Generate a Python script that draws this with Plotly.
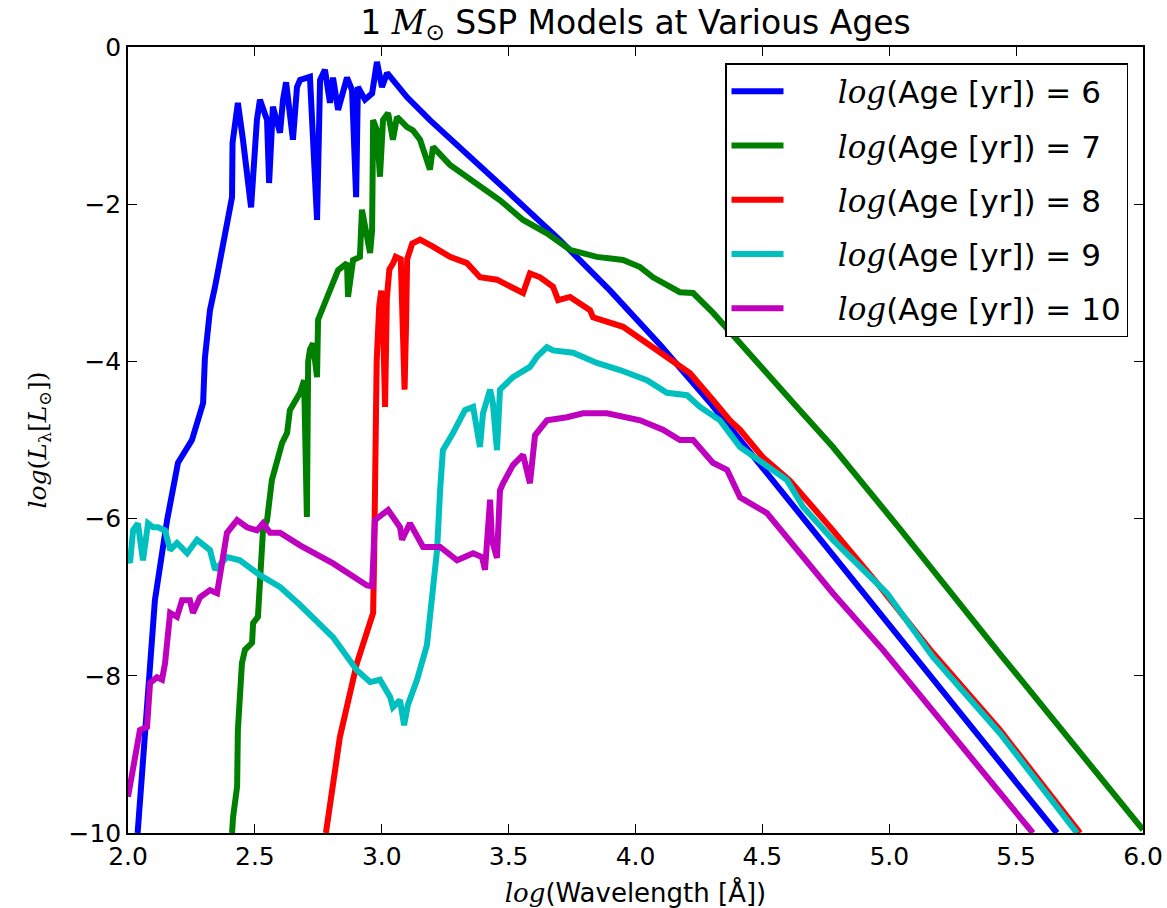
import plotly.graph_objects as go

# log(Age [yr]) values of the five SSP models
ages = [6, 7, 8, 9, 10]
colors = ["#0000ff", "#008000", "#ff0000", "#00bfbf", "#bf00bf"]

# log(Wavelength) and log(L_lambda)
x_age6 = [2.038, 2.106, 2.154, 2.197, 2.252, 2.296, 2.303, 2.323, 2.343, 2.374, 2.410, 2.412, 2.433, 2.453, 2.469,
          2.485, 2.508, 2.520, 2.548, 2.556, 2.571, 2.599, 2.611, 2.623, 2.650, 2.666, 2.678, 2.717, 2.745, 2.757,
          2.776, 2.796, 2.808, 2.828, 2.863, 2.883, 2.899, 2.906, 2.934, 2.962, 2.981, 3.001, 3.021, 3.100, 3.190,
          3.300, 3.500, 3.700, 3.900, 4.100, 4.300, 4.500, 4.750, 5.000, 5.661]
y_age6 = [-10.0, -7.04, -6.02, -5.29, -5.00, -4.53, -3.96, -3.35, -3.05, -2.49, -1.91, -1.22, -0.71, -1.18, -1.69,
          -2.04, -0.93, -0.67, -0.93, -1.73, -0.76, -1.09, -0.67, -0.45, -1.18, -0.51, -0.42, -0.38, -2.20, -0.42,
          -0.29, -0.71, -0.39, -0.80, -0.39, -0.55, -1.91, -0.51, -0.67, -0.59, -0.19, -0.51, -0.33, -0.64, -0.93,
          -1.25, -1.85, -2.45, -3.10, -3.80, -4.55, -5.35, -6.35, -7.35, -10.0]

x_age7 = [2.410, 2.414, 2.430, 2.433, 2.449, 2.461, 2.489, 2.493, 2.512, 2.520, 2.532, 2.548, 2.567, 2.607, 2.627,
          2.638, 2.678, 2.694, 2.705, 2.710, 2.717, 2.729, 2.745, 2.749, 2.784, 2.828, 2.863, 2.867, 2.887, 2.914,
          2.922, 2.942, 2.954, 2.962, 2.966, 2.981, 2.993, 3.005, 3.025, 3.044, 3.060, 3.100, 3.123, 3.151, 3.190,
          3.202, 3.269, 3.466, 3.557, 3.651, 3.742, 3.848, 3.951, 4.018, 4.069, 4.175, 4.227, 4.305, 4.424, 4.502,
          4.636, 4.778, 5.042, 5.436, 5.921, 6.0]
y_age7 = [-10.0, -9.80, -9.41, -8.69, -7.84, -7.67, -7.58, -7.33, -7.25, -6.78, -6.15, -6.02, -5.51, -5.04, -4.91,
          -4.62, -4.40, -4.24, -5.98, -4.00, -3.85, -3.77, -4.20, -3.47, -3.18, -2.84, -2.75, -3.18, -2.71, -2.67,
          -2.07, -2.42, -2.62, -2.33, -0.93, -1.06, -1.65, -0.93, -0.84, -1.18, -0.89, -1.02, -1.06, -1.18, -1.56,
          -1.27, -1.50, -1.95, -2.20, -2.37, -2.58, -2.67, -2.71, -2.80, -2.93, -3.12, -3.13, -3.38, -3.82, -4.10,
          -4.58, -5.09, -6.13, -7.72, -9.63, -9.96]

x_age8 = [2.780, 2.835, 2.902, 2.966, 2.970, 2.975, 2.980, 2.990, 2.998, 3.006, 3.013, 3.020, 3.030, 3.045, 3.055,
          3.075, 3.083, 3.090, 3.096, 3.100, 3.120, 3.151, 3.202, 3.269, 3.336, 3.387, 3.454, 3.557, 3.584, 3.624,
          3.675, 3.695, 3.742, 3.821, 3.833, 3.951, 4.045, 4.124, 4.215, 4.305, 4.372, 4.412, 4.502, 4.609, 4.700,
          4.778, 4.952, 5.172, 5.436, 5.752]
y_age8 = [-10.0, -8.78, -7.84, -7.20, -6.50, -5.00, -4.00, -3.30, -3.10, -3.60, -4.58, -3.20, -2.83, -2.75, -2.67,
          -2.70, -3.60, -4.36, -3.50, -2.70, -2.50, -2.45, -2.54, -2.67, -2.75, -2.93, -2.96, -3.13, -2.88, -2.93,
          -3.05, -3.22, -3.18, -3.35, -3.44, -3.56, -3.77, -3.94, -4.15, -4.49, -4.75, -4.87, -5.22, -5.52, -5.85,
          -6.15, -6.82, -7.71, -8.69, -10.0]

x_age9 = [2.000, 2.008, 2.020, 2.039, 2.059, 2.079, 2.099, 2.118, 2.146, 2.166, 2.193, 2.233, 2.272, 2.323, 2.343,
          2.390, 2.441, 2.520, 2.599, 2.678, 2.808, 2.902, 2.954, 2.993, 3.033, 3.044, 3.072, 3.088, 3.103, 3.139,
          3.178, 3.202, 3.218, 3.230, 3.241, 3.281, 3.308, 3.328, 3.360, 3.387, 3.399, 3.427, 3.438, 3.454, 3.466,
          3.517, 3.584, 3.612, 3.651, 3.675, 3.754, 3.848, 3.939, 4.045, 4.124, 4.203, 4.254, 4.333, 4.412, 4.502,
          4.597, 4.660, 4.778, 4.991, 5.172, 5.436, 5.740]
y_age9 = [-6.50, -6.56, -6.15, -6.06, -6.53, -6.06, -6.11, -6.11, -6.15, -6.40, -6.31, -6.44, -6.27, -6.40, -6.65,
          -6.49, -6.53, -6.72, -6.87, -7.10, -7.51, -7.93, -8.08, -8.05, -8.27, -8.40, -8.31, -8.63, -8.37, -8.05,
          -7.61, -6.91, -6.40, -5.64, -5.13, -4.91, -4.75, -4.62, -4.58, -5.09, -4.66, -4.36, -4.53, -5.13, -4.36,
          -4.20, -4.07, -3.94, -3.82, -3.86, -3.89, -4.02, -4.11, -4.24, -4.40, -4.43, -4.58, -4.75, -5.09, -5.29,
          -5.51, -5.85, -6.27, -6.95, -7.76, -8.73, -10.0]

x_age10 = [2.000, 2.020, 2.047, 2.075, 2.087, 2.114, 2.134, 2.146, 2.166, 2.193, 2.213, 2.244, 2.256, 2.284, 2.323,
           2.351, 2.374, 2.390, 2.430, 2.469, 2.508, 2.532, 2.560, 2.599, 2.678, 2.808, 2.942, 2.962, 2.973, 3.025,
           3.072, 3.080, 3.111, 3.151, 3.163, 3.202, 3.230, 3.297, 3.360, 3.395, 3.407, 3.427, 3.434, 3.454, 3.466,
           3.478, 3.517, 3.557, 3.584, 3.604, 3.651, 3.730, 3.793, 3.888, 3.966, 4.018, 4.108, 4.175, 4.227, 4.305,
           4.361, 4.412, 4.518, 4.636, 4.778, 4.975, 5.172, 5.464, 5.566]
y_age10 = [-9.54, -9.16, -8.69, -8.65, -8.09, -8.02, -8.05, -7.84, -7.20, -7.25, -7.04, -7.04, -7.20, -7.00, -6.91,
           -6.95, -6.44, -6.18, -6.02, -6.11, -6.15, -6.06, -6.18, -6.18, -6.34, -6.57, -6.85, -6.86, -6.02, -5.89,
           -6.11, -6.27, -6.06, -6.27, -6.36, -6.36, -6.36, -6.53, -6.44, -6.49, -6.65, -5.76, -6.27, -6.50, -5.64,
           -5.55, -5.32, -5.19, -5.55, -4.94, -4.75, -4.71, -4.66, -4.66, -4.71, -4.75, -4.87, -5.00, -5.00, -5.29,
           -5.38, -5.73, -5.93, -6.40, -6.95, -7.67, -8.44, -9.58, -10.0]

x_ticks = [2.0, 2.5, 3.0, 3.5, 4.0, 4.5, 5.0, 5.5, 6.0]
y_ticks = [0, -2, -4, -6, -8, -10]

series_x = [x_age6, x_age7, x_age8, x_age9, x_age10]
series_y = [y_age6, y_age7, y_age8, y_age9, y_age10]

SERIF = "DejaVu Serif"
SANS = "DejaVu Sans"
LOG = '<span style="font-family:DejaVu Serif"><i>log</i></span>'
PAD = "\u00a0" * 5

fig = go.Figure()
for age, col, xs, ys in zip(ages, colors, series_x, series_y):
    fig.add_trace(go.Scatter(
        x=xs, y=ys, mode="lines",
        line=dict(color=col, width=6),
        name=f"{PAD}{LOG}(Age [yr]) = {age}",
        legendgroup=str(age),
        hoverinfo="skip",
    ))

axis_common = dict(
    showline=True, linecolor="black", linewidth=1.5, mirror="allticks",
    ticks="inside", ticklen=9, tickwidth=1, tickcolor="black",
    showgrid=False, zeroline=False, automargin=False,
    tickfont=dict(family=SANS, size=25, color="black"),
)

fig.update_layout(
    width=1167, height=908,
    margin=dict(l=128, r=24, t=47, b=75),
    paper_bgcolor="white", plot_bgcolor="white",
    title=dict(
        text=f'1 <span style="font-family:{SERIF}"><i>M</i></span><sub>⊙</sub> SSP Models at Various Ages',
        x=635.5 / 1167, xanchor="center",
        y=1 - 22 / 908, yanchor="middle", yref="container",
        font=dict(family=SANS, size=33, color="black"),
    ),
    xaxis=dict(
        range=[2, 6], tickvals=x_ticks, ticktext=[f"{v:.1f}" for v in x_ticks],
        title=dict(text=f"{LOG}(Wavelength [Å])", font=dict(family=SANS, size=26, color="black")),
        **axis_common,
    ),
    yaxis=dict(
        range=[-10, 0], tickvals=y_ticks,
        title=dict(text=f'<span style="font-family:{SERIF}"><i>log</i>(<i>L</i><sub>λ</sub>[<i>L</i><sub>⊙</sub>])</span>',
                   font=dict(family=SERIF, size=25, color="black")),
        **axis_common,
    ),
    legend=dict(
        x=(1128 - 128) / 1015, xanchor="right",
        y=1 - (63 - 47) / 786, yanchor="top",
        bgcolor="white", bordercolor="black", borderwidth=1.5,
        font=dict(family=SANS, size=31, color="black"),
        tracegroupgap=11, traceorder="grouped", itemwidth=52,
    ),
    showlegend=True,
)

fig.write_html("out.html")
